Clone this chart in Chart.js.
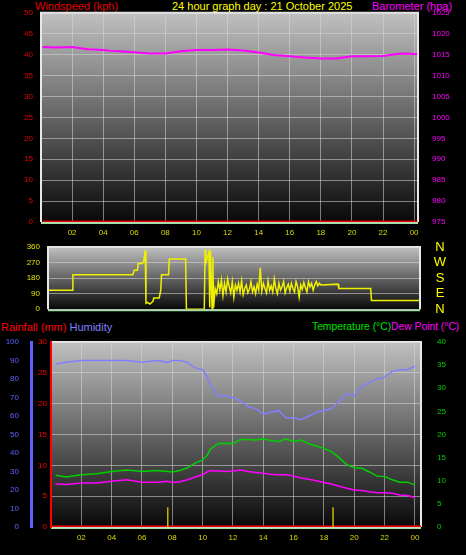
<!DOCTYPE html>
<html>
<head>
<meta charset="utf-8">
<script src="https://cdn.jsdelivr.net/npm/chart.js@4"></script>
<style>
  body { margin: 0; background: #000; width: 466px; height: 555px; overflow: hidden; position: relative; font-family: "Liberation Sans", Arial, sans-serif; }
  canvas { position: absolute; left: 0; }
  .t { position: absolute; font-size: 11px; white-space: nowrap; line-height: 12px; }
</style>
</head>
<body>
<div class="t" style="left:35px;top:0;color:#e00000">Windspeed (kph)</div>
<div class="t" style="left:172px;top:0;color:#ffff00">24 hour graph day : 21 October 2025</div>
<div class="t" style="left:372px;top:0;color:#ff00ff">Barometer (hpa)</div>
<div class="t" style="left:1px;top:321px;color:#ff0000">Rainfall (mm) <span style="color:#8080ff">Humidity</span></div>
<div class="t" style="left:312px;top:321px;color:#00e000;font-size:10.3px">Temperature (°C)<span style="color:#ff00ff">Dew Point (°C)</span></div>
<div style="position:absolute;left:0;top:0;width:466px;height:245px"><canvas id="c1" width="466" height="245"></canvas></div>
<div style="position:absolute;left:0;top:232px;width:466px;height:90px"><canvas id="c2" width="466" height="90"></canvas></div>
<div style="position:absolute;left:0;top:315px;width:466px;height:240px"><canvas id="c3" width="466" height="240"></canvas></div>
<script>
// Panel 1: wind speed / barometer
const baroHours = [0.1, 1, 2, 3, 4, 4.5, 5, 6, 7, 8, 9, 10, 11, 12, 13, 14, 15, 16, 17, 18, 19, 20, 21, 22, 23, 23.5, 24.2];
const baroValues = [1016.8, 1016.7, 1016.8, 1016.3, 1016.1, 1015.9, 1015.8, 1015.6, 1015.3, 1015.3, 1015.8, 1016.1, 1016.1, 1016.2, 1016.0, 1015.5, 1014.9, 1014.6, 1014.3, 1014.1, 1014.1, 1014.6, 1014.6, 1014.7, 1015.2, 1015.3, 1015.1];
const windHours = [0.1, 24.2];
const windValues = [0, 0];

// Panel 2: wind direction
const dirHours = [0.5, 2.0, 2.05, 5.9, 6.0, 6.2, 6.25, 6.5, 6.6, 6.7, 6.75, 6.85, 7.0, 7.2, 7.25, 7.6, 7.7, 7.75, 8.2, 8.25, 9.3, 9.35, 10.5, 10.55, 10.6, 10.7, 10.8, 10.85, 10.9, 11.0, 11.05, 11.1];
const dirValues = [110, 110, 200, 200, 225, 225, 265, 265, 275, 340, 35, 40, 30, 45, 65, 65, 110, 200, 200, 290, 290, 0, 0, 345, 270, 300, 330, 10, 340, 0, 300, 10];
const dirNoiseStart = 11.2;
const dirNoiseStep = 0.1;
const dirNoise = [120, 90, 160, 110, 170, 80, 150, 100, 175, 130, 95, 160, 70, 140, 110, 150, 100, 165, 85, 120, 140, 95, 115, 160, 100, 130, 90, 145, 110, 240, 105, 150, 120, 95, 165, 110, 135, 100, 175, 120, 90, 150, 110, 130, 160, 95, 125, 145, 105, 150, 120, 100, 160, 130, 70, 140, 115, 155, 125, 100, 160, 130, 150, 110, 140, 160, 135, 150];
const dirTailHours = [18.0, 19.1, 19.15, 21.2, 21.25, 24.3];
const dirTailValues = [140, 145, 120, 120, 50, 50];
const compassLabels = ['N', 'E', 'S', 'W', 'N'];

// Panel 3: humidity / rain / temperature / dew point
const hours3 = [0.3, 1, 2, 3, 4, 5, 6, 7, 7.7, 8, 8.5, 9, 9.5, 10, 10.3, 10.5, 11, 11.5, 12, 12.5, 13, 13.5, 14, 14.5, 15, 15.5, 16, 16.5, 17, 17.5, 18, 18.5, 19, 19.5, 20, 20.5, 21, 21.5, 22, 22.5, 23, 23.5, 24];
const humidity = [88, 89, 90, 90, 90, 90, 89, 90, 89, 90, 90, 89, 86, 85, 81, 77, 71, 71, 70, 68, 65, 64, 61, 62, 63, 59, 59, 58, 60, 62, 63, 64, 68, 72, 71, 76, 78, 80, 81, 84, 85, 85, 87];
const temperature = [11.2, 10.8, 11.3, 11.5, 12.0, 12.3, 12.0, 12.2, 12.0, 11.9, 12.2, 12.8, 13.8, 14.5, 15.5, 16.8, 18.0, 18.1, 18.0, 18.9, 18.9, 18.8, 19.1, 18.7, 18.5, 19.0, 18.5, 18.8, 18.0, 17.5, 17.0, 16.3, 15.0, 13.5, 12.8, 12.7, 11.9, 11.0, 10.9, 10.2, 9.7, 9.7, 9.1];
const dewPoint = [9.3, 9.2, 9.5, 9.5, 9.9, 10.2, 9.7, 9.7, 9.9, 9.6, 9.8, 10.2, 10.8, 11.3, 11.9, 12.2, 12.1, 12.0, 12.1, 12.3, 12.0, 11.8, 11.6, 11.4, 11.3, 11.3, 11.0, 10.6, 10.3, 10.0, 9.6, 9.3, 8.8, 8.4, 8.0, 7.9, 7.6, 7.4, 7.4, 7.3, 6.9, 6.8, 6.4];
const rainHours = [0.05, 24.4];
const rainValues = [0, 0];
const markHours = [7.7, 18.6];
const markHeight = 3.2;

const hourTicks = [2, 4, 6, 8, 10, 12, 14, 16, 18, 20, 22, 24];
const pad = v => String(v % 24).padStart(2, '0');
const xyPts = (xs, ys) => xs.map((x, i) => ({ x: x, y: ys[i] }));

const bgPlugin = {
  id: 'bg',
  beforeDraw(chart) {
    const { ctx, chartArea: a } = chart;
    const g = ctx.createLinearGradient(0, a.top, 0, a.bottom);
    g.addColorStop(0, '#c0c0c0');
    g.addColorStop(1, '#080808');
    ctx.save();
    ctx.fillStyle = g;
    ctx.fillRect(a.left, a.top, a.right - a.left, a.bottom - a.top);
    ctx.strokeStyle = '#e8e8e8';
    ctx.lineWidth = 2;
    ctx.beginPath();
    ctx.moveTo(a.left, a.bottom); ctx.lineTo(a.left, a.top); ctx.lineTo(a.right, a.top); ctx.lineTo(a.right, a.bottom);
    ctx.stroke();
    ctx.strokeStyle = '#a0e0a0';
    ctx.beginPath(); ctx.moveTo(a.left, a.bottom + 1); ctx.lineTo(a.right, a.bottom + 1); ctx.stroke();
    ctx.restore();
  }
};

// compass letters beside the wind direction panel, placed by the y scale
const compassPlugin = {
  id: 'compass',
  afterDraw(chart) {
    const { ctx } = chart;
    const s = chart.scales.y;
    ctx.save();
    ctx.fillStyle = '#ffff00';
    ctx.font = '13px "Liberation Sans"';
    ctx.textAlign = 'center';
    ctx.textBaseline = 'middle';
    compassLabels.forEach((t, i) => ctx.fillText(t, 440, s.getPixelForValue(i * 90)));
    ctx.restore();
  }
};

const grid = { color: 'rgba(215,215,215,0.55)', borderDash: [1, 2], drawTicks: false };
const fixW = w => function (s) { s.width = w; };
const fixH = h => function (s) { s.height = h; };
const tickFont = { family: 'Liberation Sans', size: 8 };
const baseOpts = (padding) => ({
  responsive: false, animation: false,
  layout: { padding: padding },
  plugins: { legend: { display: false }, tooltip: { enabled: false } },
  elements: { point: { radius: 0 }, line: { borderWidth: 1.5, tension: 0 } }
});

const xAxis = (min, max, h, show) => ({
  type: 'linear', min: min, max: max, display: show,
  afterFit: fixH(h),
  afterBuildTicks: s => { s.ticks = hourTicks.map(v => ({ value: v })); },
  grid: grid,
  border: { display: false },
  ticks: { color: '#d8d800', font: tickFont, padding: 6, autoSkip: false, maxRotation: 0,
    callback: v => pad(v) }
});

// Chart 1
const o1 = baseOpts({ top: 12, left: 0, right: 0, bottom: 0 });
o1.scales = {
  x: xAxis(0, 24.25, 23, true),
  y: { position: 'left', min: 0, max: 50, afterFit: fixW(41), grid: grid, border: { display: false },
    ticks: { stepSize: 5, color: '#e00000', font: tickFont, padding: 8 } },
  y2: { position: 'right', min: 975, max: 1025, afterFit: fixW(48), grid: { display: false }, border: { display: false },
    ticks: { stepSize: 5, color: '#ff00ff', font: tickFont, padding: 6, callback: v => String(v) } }
};
new Chart(document.getElementById('c1'), {
  type: 'line',
  data: { datasets: [
    { data: xyPts(baroHours, baroValues), borderColor: '#ff00ff', yAxisID: 'y2', borderWidth: 2 },
    { data: xyPts(windHours, windValues), borderColor: '#e00000', yAxisID: 'y', borderWidth: 3 }
  ] },
  options: o1, plugins: [bgPlugin]
});

// Chart 2
const dirPts = xyPts(dirHours, dirValues)
  .concat(dirNoise.map((v, i) => ({ x: +(dirNoiseStart + i * dirNoiseStep).toFixed(2), y: v })))
  .concat(xyPts(dirTailHours, dirTailValues));
const o2 = baseOpts({ top: 15, left: 0, right: 46, bottom: 11 });
o2.scales = {
  x: xAxis(0.45, 24.37, 0, false),
  y: { position: 'left', min: 0, max: 360, afterFit: fixW(48), grid: grid, border: { display: false },
    ticks: { stepSize: 90, autoSkip: false, color: '#e0e000', font: tickFont, padding: 8 } }
};
new Chart(document.getElementById('c2'), {
  type: 'line',
  data: { datasets: [{ data: dirPts, borderColor: '#f0f000', borderWidth: 1.5 }] },
  options: o2, plugins: [bgPlugin, compassPlugin]
});

// Chart 3
const markPts = [];
markHours.forEach(h => { markPts.push({ x: h, y: 0 }, { x: h, y: markHeight }, { x: h, y: null }); });
const o3 = baseOpts({ top: 27, left: 0, right: 0, bottom: 0 });
o3.scales = {
  x: xAxis(0, 24.4, 28, true),
  rain: { position: 'left', min: 0, max: 30, afterFit: fixW(20), grid: grid,
    border: { display: true, color: '#ff0000', width: 2 },
    ticks: { stepSize: 5, autoSkip: false, color: '#ff0000', font: tickFont, padding: 4 } },
  hum: { position: 'left', min: 0, max: 100, afterFit: fixW(31), grid: { display: false },
    border: { display: true, color: '#6060ff', width: 3 },
    ticks: { stepSize: 10, autoSkip: false, color: '#6060ff', font: tickFont, padding: 4 } },
  temp: { position: 'right', min: 0, max: 40, afterFit: fixW(45), grid: { display: false }, border: { display: false },
    ticks: { stepSize: 5, autoSkip: false, color: '#00d000', font: tickFont, padding: 8 } }
};
new Chart(document.getElementById('c3'), {
  type: 'line',
  data: { datasets: [
    { data: xyPts(hours3, humidity), borderColor: '#8080ff', yAxisID: 'hum' },
    { data: xyPts(hours3, temperature), borderColor: '#00d000', yAxisID: 'temp' },
    { data: xyPts(hours3, dewPoint), borderColor: '#ff00ff', yAxisID: 'temp' },
    { data: markPts, borderColor: '#c8b400', yAxisID: 'rain', spanGaps: false },
    { data: xyPts(rainHours, rainValues), borderColor: '#ff0000', yAxisID: 'rain', borderWidth: 3 }
  ] },
  options: o3, plugins: [bgPlugin]
});
</script>
</body>
</html>
